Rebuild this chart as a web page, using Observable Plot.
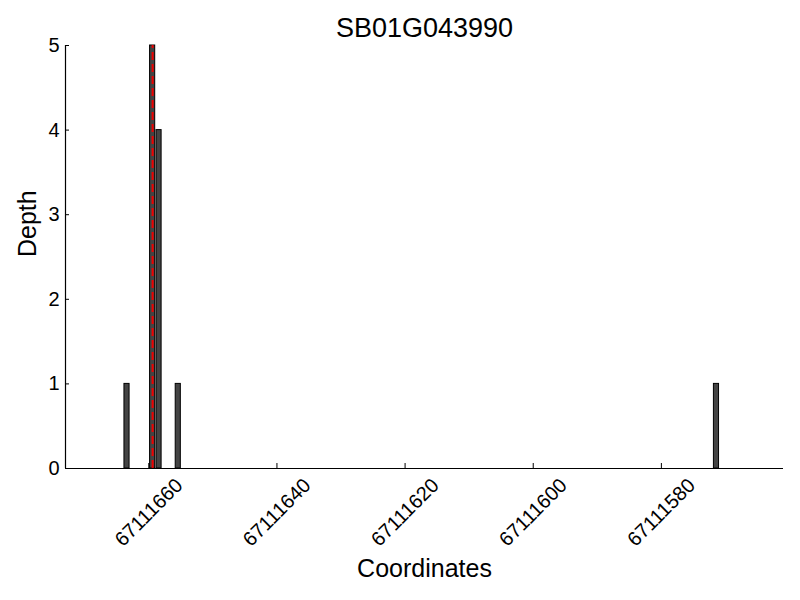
<!DOCTYPE html>
<html>
<head>
<meta charset="utf-8">
<script src="https://cdn.jsdelivr.net/npm/d3@7"></script>
<script src="https://cdn.jsdelivr.net/npm/@observablehq/plot@0.6"></script>
<style>
  html, body { margin: 0; padding: 0; background: #fff; }
  svg { font-family: "Liberation Sans", Arial, sans-serif; }
</style>
</head>
<body>
<div id="chart"></div>
<script>
const title = "SB01G043990";
const coordinates = [67111663, 67111659, 67111658, 67111655, 67111571];
const depths = [1, 5, 4, 1, 1];
const markerCoordinate = [67111659];
const xTicks = [67111660, 67111640, 67111620, 67111600, 67111580];
const yTicks = [0, 1, 2, 3, 4, 5];
const xDomain = [67111673.0, 67111560.94];
const yDomain = [0, 5];
const barWidth = 0.8;

const data = coordinates.map((c, i) => ({pos: c, depth: depths[i]}));

const chart = Plot.plot({
  width: 800,
  height: 600,
  marginLeft: 65,
  marginRight: 17,
  marginTop: 45,
  marginBottom: 132,
  style: {fontFamily: "Liberation Sans, Arial, sans-serif", background: "#fff"},
  x: {domain: xDomain, axis: null},
  y: {domain: yDomain, axis: null},
  marks: [
    Plot.rectY(data, {x1: d => d.pos, x2: d => d.pos + barWidth, y1: 0, y2: "depth", fill: "#444444", stroke: "#000", strokeWidth: 1}),
    Plot.ruleX(markerCoordinate, {x: d => d + barWidth / 2, y1: yDomain[0], y2: yDomain[1], stroke: "#ee0000", strokeWidth: 2, strokeDasharray: "8,4"}),
    Plot.ruleY([yDomain[0]], {stroke: "#000", strokeWidth: 1.2}),
    Plot.ruleX([xDomain[0]], {stroke: "#000", strokeWidth: 1.2}),
    Plot.axisX({ticks: xTicks, tickFormat: () => "", tickSize: -5, label: null, anchor: "bottom"}),
    Plot.axisY({ticks: yTicks, tickFormat: () => "", tickSize: -4, label: null, anchor: "left"}),
    Plot.text(xTicks, {x: d => d, text: d => String(d), frameAnchor: "bottom", dy: 44, rotate: -45, textAnchor: "middle", lineAnchor: "middle", fontSize: 20, fill: "#000"}),
    Plot.text(yTicks, {y: d => d, text: d => String(d), frameAnchor: "left", dx: -6, textAnchor: "end", lineAnchor: "middle", fontSize: 20, fill: "#000"}),
    Plot.text([title], {frameAnchor: "top", dy: -17, lineAnchor: "middle", fontSize: 27, fill: "#000"}),
    Plot.text(["Coordinates"], {frameAnchor: "bottom", dy: 100, lineAnchor: "middle", fontSize: 25, fill: "#000"}),
    Plot.text(["Depth"], {frameAnchor: "left", dx: -38, rotate: -90, lineAnchor: "middle", fontSize: 25, fill: "#000"})
  ]
});
document.getElementById("chart").appendChild(chart);
</script>
</body>
</html>
